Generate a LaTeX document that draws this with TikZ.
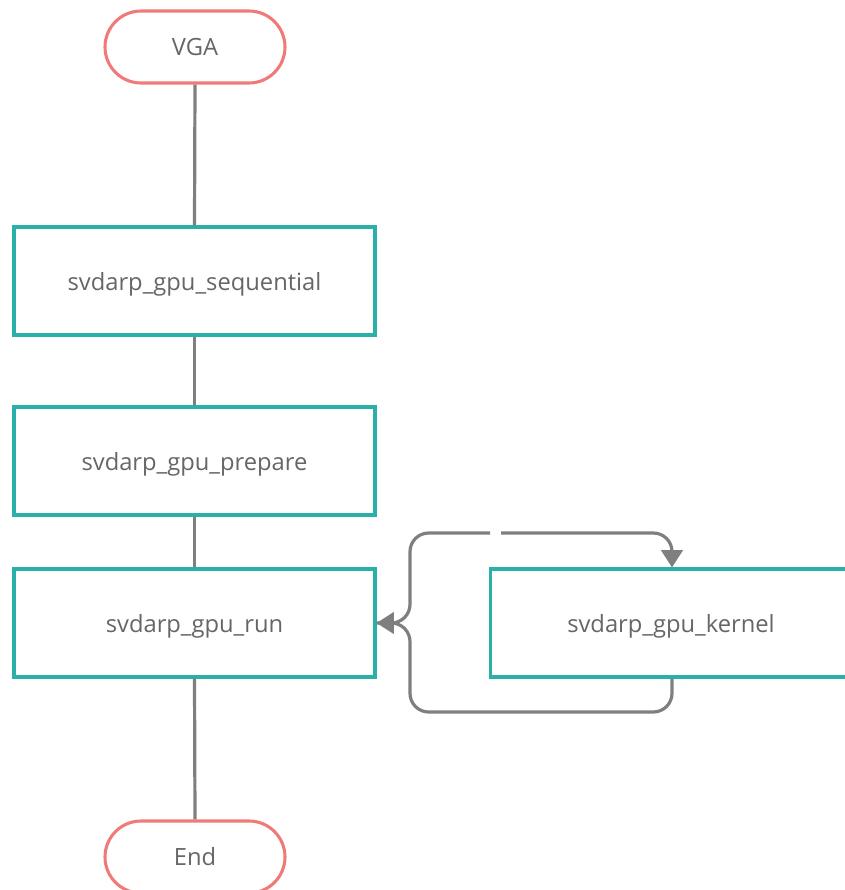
\documentclass[tikz,border=0pt]{standalone}
\usepackage{fontspec}
\setmainfont{Open Sans}
\usetikzlibrary{arrows.meta}
\definecolor{teal1}{HTML}{2AAFAA}
\definecolor{red1}{HTML}{F07A78}
\definecolor{line1}{HTML}{7F7F7F}
\definecolor{txt}{HTML}{666666}
\tikzset{
  procbox/.style={draw=teal1, line width=2.3pt, fill=white, minimum width=361*0.75pt, minimum height=108*0.75pt, inner sep=0pt, text depth=0pt, text=txt, font=\fontsize{17.8}{21}\selectfont},
  term/.style={draw=red1, line width=2.3pt, fill=white, rounded corners=27pt, minimum width=180*0.75pt, minimum height=72*0.75pt, inner sep=0pt, text=txt, font=\fontsize{17.8}{21}\selectfont},
  conn/.style={draw=line1, line width=2.4pt},
  arr/.style={conn, -{Triangle[length=13pt,width=16pt]}},
}
\begin{document}
\begin{tikzpicture}[x=0.75pt,y=-0.75pt]
\useasboundingbox (0,0) rectangle (844,890);
\node[term] (vga) at (195,47) {VGA};
\node[procbox] (seq) at (194.5,281) {svdarp\_gpu\_sequential};
\node[procbox] (prep) at (194.5,461) {svdarp\_gpu\_prepare};
\node[procbox] (run) at (194.5,623) {svdarp\_gpu\_run};
\node[procbox] (kern) at (671,623) {svdarp\_gpu\_kernel};
\node[term] (end) at (195,857) {End};
\coordinate (gapL) at (490,533);
\coordinate (gapR) at (501,533);
\draw[conn] (vga.south) -- (seq.north);
\draw[conn] (seq.south) -- (prep.north);
\draw[conn] (prep.south) -- (run.north);
\draw[conn] (run.south) -- (end.north);
\draw[arr, rounded corners=14pt] (kern.south -| 672,0) -- (672,712) -- (410,712) -- (410,623) -- (run.east);
\draw[conn, rounded corners=14pt] (run.east) -- (410,623) -- (410,533) -- (gapL);
\draw[arr, rounded corners=14pt] (gapR) -- (672,533) -- (kern.north -| 672,0);
\end{tikzpicture}
\end{document}
